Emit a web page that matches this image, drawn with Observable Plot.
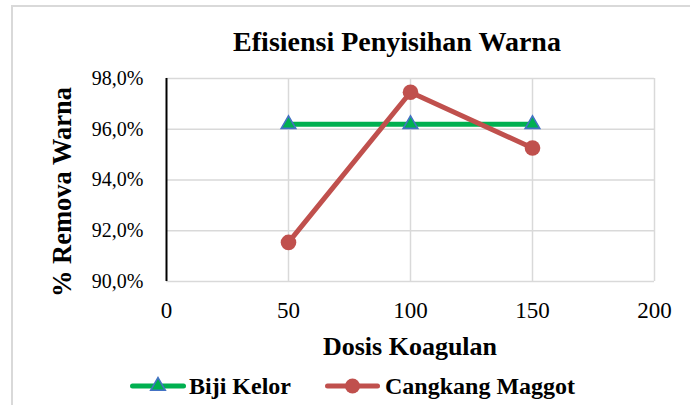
<!DOCTYPE html>
<html>
<head>
<meta charset="utf-8">
<script src="https://cdn.jsdelivr.net/npm/d3@7"></script>
<script src="https://cdn.jsdelivr.net/npm/@observablehq/plot@0.6"></script>
<style>
  html, body { margin: 0; padding: 0; background: #fff; }
  #wrap { position: relative; width: 690px; height: 405px; overflow: hidden; font-family: "Liberation Serif", "Times New Roman", serif; }
  #border { position: absolute; left: 11px; top: 5px; width: 700px; height: 420px; border: 2px solid #d9d9d9; box-sizing: border-box; }
  .lbl { position: absolute; font-weight: bold; line-height: 1; white-space: nowrap; color: #000; transform: translate(-50%, -50%); }
  #chart { position: absolute; left: 0; top: 0; }
  #legend { position: absolute; left: 0; top: 0; }
</style>
</head>
<body>
<div id="wrap">
  <div id="border"></div>
  <div id="chart"></div>
  <div class="lbl" id="title" style="left:397px; top:42px; font-size:28px;">Efisiensi Penyisihan Warna</div>
  <div class="lbl" id="ylabel" style="left:62px; top:192px; font-size:26.5px; transform: translate(-50%, -50%) rotate(-90deg);">% Remova Warna</div>
  <div class="lbl" id="xlabel" style="left:410px; top:347px; font-size:26px;">Dosis Koagulan</div>
  <div id="legend"></div>
</div>
<script>
// ---- data ----
const dosis = [50, 100, 150];
const bijiKelor = [96.2, 96.2, 96.2];
const cangkangMaggot = [91.54, 97.46, 95.26];
const seriesNames = ["Biji Kelor", "Cangkang Maggot"];
const xTicks = [0, 50, 100, 150, 200];
const yTicks = [90, 92, 94, 96, 98];
const colors = { "Biji Kelor": "#00b050", "Cangkang Maggot": "#c0504d" };

const kelorData = dosis.map((d, i) => ({ x: d, y: bijiKelor[i], s: seriesNames[0] }));
const maggotData = dosis.map((d, i) => ({ x: d, y: cangkangMaggot[i], s: seriesNames[1] }));

const fmt = d => d.toFixed(1).replace(".", ",") + "%";

const plot = Plot.plot({
  width: 690,
  height: 405,
  marginLeft: 166,
  marginRight: 36,
  marginTop: 78,
  marginBottom: 124,
  style: { fontFamily: "'Liberation Serif', 'Times New Roman', serif", background: "transparent", color: "#000" },
  x: { domain: [0, 200] },
  y: { domain: [90, 98], axis: null },
  marks: [
    Plot.gridY(yTicks, { stroke: "#d9d9d9", strokeOpacity: 1, strokeWidth: 1.5 }),
    Plot.gridX(xTicks.slice(1), { stroke: "#d9d9d9", strokeOpacity: 1, strokeWidth: 1.5 }),
    Plot.ruleX([0], { stroke: "#000", strokeWidth: 2 }),
    Plot.text(yTicks, { y: d => d, text: fmt, frameAnchor: "left", textAnchor: "end", dx: -23, fontSize: 20, fill: "#000" }),
    Plot.axisX(xTicks, { tickSize: 0, tickPadding: 20, fontSize: 23, label: null }),
    Plot.line(kelorData, { x: "x", y: "y", stroke: colors["Biji Kelor"], strokeWidth: 5 }),
    Plot.dot(kelorData, { x: "x", y: "y", symbol: "triangle", r: 5.4, fill: colors["Biji Kelor"], stroke: "#4472c4", strokeWidth: 1.6 }),
    Plot.line(maggotData, { x: "x", y: "y", stroke: colors["Cangkang Maggot"], strokeWidth: 5 }),
    Plot.dot(maggotData, { x: "x", y: "y", r: 7.8, fill: colors["Cangkang Maggot"], stroke: colors["Cangkang Maggot"], strokeWidth: 0 })
  ]
});
document.getElementById("chart").appendChild(plot);

// ---- legend (HTML/SVG below the plot) ----
const legend = d3.select("#legend");
const items = [
  { name: seriesNames[0], x0: 130, x1: 186, text: 189, symbol: "triangle" },
  { name: seriesNames[1], x0: 325, x1: 380, text: 385, symbol: "circle" }
];
const lsvg = legend.append("svg").attr("width", 690).attr("height", 405).style("position", "absolute").style("left", "0px").style("top", "0px");
items.forEach(it => {
  const cy = 386;
  lsvg.append("line").attr("x1", it.x0 + 2.5).attr("x2", it.x1 - 2.5).attr("y1", cy).attr("y2", cy)
    .attr("stroke", colors[it.name]).attr("stroke-width", 5).attr("stroke-linecap", "round");
  const cx = (it.x0 + it.x1) / 2;
  if (it.symbol === "triangle") {
    const sym = d3.symbol(d3.symbolTriangle, Math.PI * 5.4 * 5.4)();
    lsvg.append("path").attr("d", sym).attr("transform", `translate(${cx},${cy})`)
      .attr("fill", colors[it.name]).attr("stroke", "#4472c4").attr("stroke-width", 1.6);
  } else {
    lsvg.append("circle").attr("cx", cx).attr("cy", cy).attr("r", 7.5).attr("fill", colors[it.name]);
  }
  legend.append("div").attr("class", "lbl")
    .style("left", it.text + "px").style("top", cy + "px").style("font-size", "24px")
    .style("transform", "translate(0, -50%)")
    .text(it.name);
});
</script>
</body>
</html>
